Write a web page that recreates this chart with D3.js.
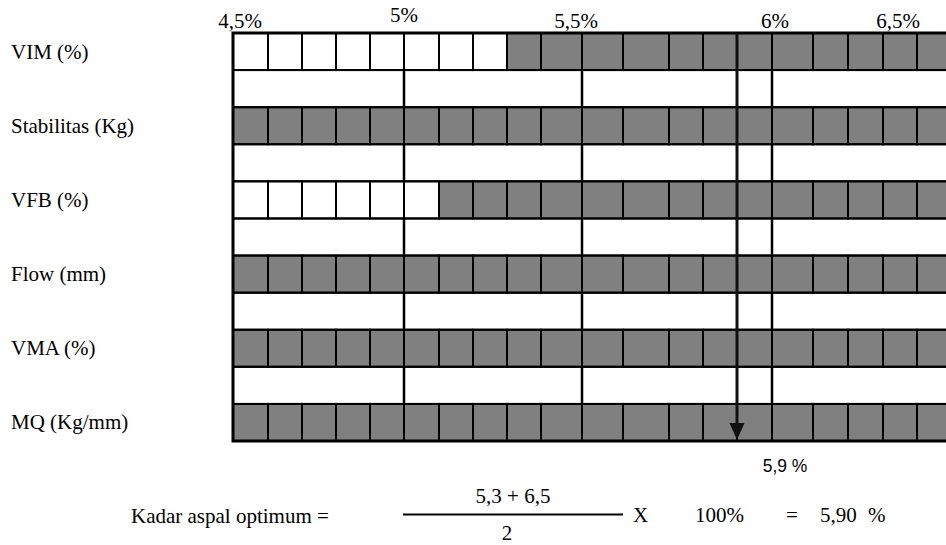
<!DOCTYPE html>
<html>
<head>
<meta charset="utf-8">
<script src="https://cdn.jsdelivr.net/npm/d3@7"></script>
<style>
  body { margin: 0; background: #fff; }
</style>
</head>
<body>
<svg id="chart"></svg>
<script>
// kadar aspal (%) - one column per 0.1 %
const kadar = [4.5, 4.6, 4.7, 4.8, 4.9, 5.0, 5.1, 5.2, 5.3, 5.4, 5.5,
  5.6, 5.7, 5.8, 5.9, 6.0, 6.1, 6.2, 6.3, 6.4, 6.5];

// properties and the range of kadar aspal that meets the spec
const properties = ["VIM (%)", "Stabilitas (Kg)", "VFB (%)", "Flow (mm)", "VMA (%)", "MQ (Kg/mm)"];
const rangeMin = [5.3, 4.5, 5.1, 4.5, 4.5, 4.5];
const rangeMax = [6.5, 6.5, 6.5, 6.5, 6.5, 6.5];

// tick labels on top
const tickValues = [4.5, 5.0, 5.5, 6.0, 6.5];
const tickLabels = ["4,5%", "5%", "5,5%", "6%", "6,5%"];

const optimum = 5.9;
const optimumLabel = "5,9 %";

// ---- layout ----
const width = 946, height = 545;
const gridTop = 33, gridBottom = 441;
const serif = "'Liberation Serif', 'DejaVu Serif', serif";
const sans = "'Liberation Sans', Arial, sans-serif";
const fontSize = 21;
// column edges in the sheet are not quite even
const colEdges = [233, 268, 302, 336, 370, 404, 439, 473, 507, 541, 582,
  623, 669, 703, 737, 772, 813, 848, 883, 917, 952];
const tickDx = [7, 0, -6, 3, -54];
const tickY = [28, 22, 28, 28, 28];

const svg = d3.select("#chart").attr("width", width).attr("height", height);

const x = d3.scaleLinear().domain(kadar).range(colEdges);

// every property row is followed by an empty spacer row (except the last)
const rowIds = [];
properties.forEach((p, i) => {
  rowIds.push("p" + i);
  if (i < properties.length - 1) rowIds.push("s" + i);
});
const y = d3.scaleBand().domain(rowIds).range([gridTop, gridBottom]);

// cells of the property rows
const cells = [];
properties.forEach((p, i) => {
  for (let k = 0; k < kadar.length - 1; k++) {
    cells.push({
      row: "p" + i,
      x0: kadar[k],
      x1: kadar[k + 1],
      ok: kadar[k] >= rangeMin[i] - 1e-9 && kadar[k + 1] <= rangeMax[i] + 1e-9,
    });
  }
});

svg.append("g")
  .selectAll("rect")
  .data(cells)
  .join("rect")
  .attr("x", (d) => x(d.x0))
  .attr("y", (d) => y(d.row))
  .attr("width", (d) => x(d.x1) - x(d.x0))
  .attr("height", y.bandwidth())
  .attr("fill", (d) => (d.ok ? "#808080" : "#fff"))
  .attr("stroke", "#000")
  .attr("stroke-width", 2);

// major lines through the spacer rows
const spacers = rowIds.filter((r) => r[0] === "s");
const majors = [];
spacers.forEach((s) => tickValues.slice(1).forEach((v) => majors.push({ row: s, v: v })));

svg.append("g")
  .selectAll("line")
  .data(majors)
  .join("line")
  .attr("x1", (d) => x(d.v))
  .attr("x2", (d) => x(d.v))
  .attr("y1", (d) => y(d.row))
  .attr("y2", (d) => y(d.row) + y.bandwidth())
  .attr("stroke", "#000")
  .attr("stroke-width", 2.5);

// horizontal row lines
svg.append("g")
  .selectAll("line")
  .data(rowIds.slice(1))
  .join("line")
  .attr("x1", x(4.5))
  .attr("x2", width)
  .attr("y1", (d) => y(d))
  .attr("y2", (d) => y(d))
  .attr("stroke", "#000")
  .attr("stroke-width", 2);

// outer border (right side runs off the page)
svg.append("path")
  .attr("d", `M${width},${gridTop}H${x(4.5)}V${gridBottom}H${width}`)
  .attr("fill", "none")
  .attr("stroke", "#000")
  .attr("stroke-width", 3);

// optimum arrow
const ax = x(optimum);
svg.append("line")
  .attr("x1", ax).attr("x2", ax)
  .attr("y1", gridTop).attr("y2", gridBottom - 16)
  .attr("stroke", "#111")
  .attr("stroke-width", 3);
svg.append("path")
  .attr("d", `M${ax - 7.5},${gridBottom - 18}L${ax + 7.5},${gridBottom - 18}L${ax},${gridBottom - 1}Z`)
  .attr("fill", "#111");

svg.append("text")
  .attr("font-family", sans)
  .attr("font-size", 19)
  .attr("transform", `translate(${ax + 48},472) scale(0.92,1)`)
  .attr("text-anchor", "middle")
  .text(optimumLabel);

// row labels
svg.append("g")
  .selectAll("text")
  .data(properties)
  .join("text")
  .attr("font-family", serif)
  .attr("font-size", fontSize)
  .attr("x", 11)
  .attr("y", (d, i) => y("p" + i) + y.bandwidth() / 2 + 7)
  .text((d) => d);

// top tick labels
svg.append("g")
  .selectAll("text")
  .data(tickValues)
  .join("text")
  .attr("font-family", serif)
  .attr("font-size", fontSize)
  .attr("x", (d, i) => x(d) + tickDx[i])
  .attr("y", (d, i) => tickY[i])
  .attr("text-anchor", "middle")
  .text((d, i) => tickLabels[i]);

// formula at the bottom
const f = svg.append("g");
const ft = (tx, ty, s, anchor) =>
  f.append("text").attr("font-family", serif).attr("font-size", fontSize)
    .attr("x", tx).attr("y", ty)
    .attr("text-anchor", anchor || "start").text(s);
ft(131, 523, "Kadar aspal optimum =");
ft(513, 503, "5,3 + 6,5", "middle");
f.append("line").attr("x1", 403).attr("x2", 623).attr("y1", 514.5).attr("y2", 514.5)
  .attr("stroke", "#000").attr("stroke-width", 2.2);
ft(507, 540, "2", "middle");
ft(633, 522, "X");
ft(695, 522, "100%");
ft(786, 522, "=");
ft(820, 522, "5,90");
ft(868, 522, "%");
</script>
</body>
</html>
